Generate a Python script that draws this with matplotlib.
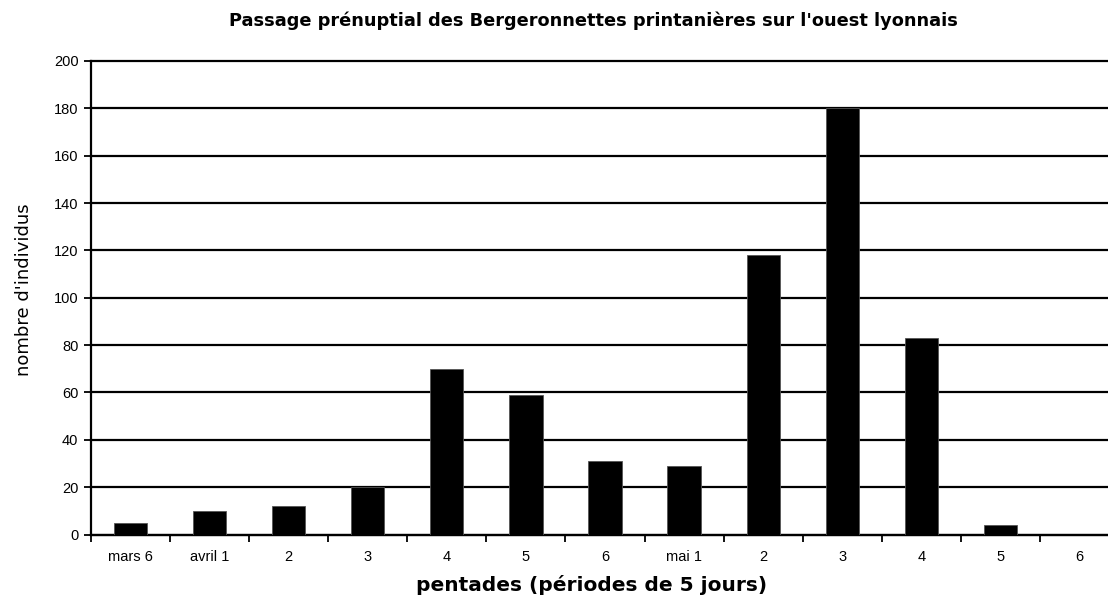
import matplotlib
matplotlib.use("Agg")
import matplotlib.pyplot as plt
import numpy as np

categories = ["mars 6", "avril 1", "2", "3", "4", "5", "6", "mai 1", "2", "3", "4", "5", "6"]
values = [5, 10, 12, 20, 70, 59, 31, 29, 118, 180, 83, 4, 0]
yticks = [0, 20, 40, 60, 80, 100, 120, 140, 160, 180, 200]

W, H = 1108, 601
fig = plt.figure(figsize=(W / 100, H / 100), dpi=100)
left_px, right_px, top_px, bot_px = 91, 1119, 61, 534.5
ax = fig.add_axes([left_px / W, 1 - bot_px / H, (right_px - left_px) / W, (bot_px - top_px) / H])

x = np.arange(len(categories))
ax.bar(x, values, width=0.42, color="black", edgecolor="#555555", linewidth=0.6, zorder=3)

ax.set_xlim(-0.5, len(categories) - 0.5)
ax.set_ylim(0, 200)
ax.set_yticks(yticks)
ax.yaxis.grid(True, color="black", linewidth=1.6, zorder=1)
ax.set_axisbelow(True)

ax.set_xticks(x)
ax.set_xticklabels(categories, fontsize=10.5, family="Liberation Sans")
ax.tick_params(axis="x", which="major", length=0, pad=11)
ax.set_xticks(np.arange(-0.5, len(categories), 1.0), minor=True)
ax.tick_params(axis="x", which="minor", length=5, width=1.3, direction="out")
ax.tick_params(axis="y", length=5, width=1.3, direction="out", pad=4)
for lab in ax.get_yticklabels():
    lab.set_fontsize(10.5)
    lab.set_family("Liberation Sans")

for s in ["top", "right"]:
    ax.spines[s].set_visible(False)
ax.spines["left"].set_linewidth(1.6)
ax.spines["bottom"].set_linewidth(1.6)

fig.canvas.draw()
for gl in ax.get_ygridlines():
    gl.set_clip_on(False)

fig.text(593 / W, 1 - 21 / H, "Passage prénuptial des Bergeronnettes printanières sur l'ouest lyonnais",
         ha="center", va="center", fontsize=12.8, fontweight="bold", family="DejaVu Sans")
fig.text(592 / W, 1 - 585 / H, "pentades (périodes de 5 jours)",
         ha="center", va="center", fontsize=14.5, fontweight="bold", family="DejaVu Sans")
fig.text(24 / W, 1 - 290 / H, "nombre d'individus", rotation=90,
         ha="center", va="center", fontsize=13, family="DejaVu Sans")

fig.savefig("out.png", dpi=100)
